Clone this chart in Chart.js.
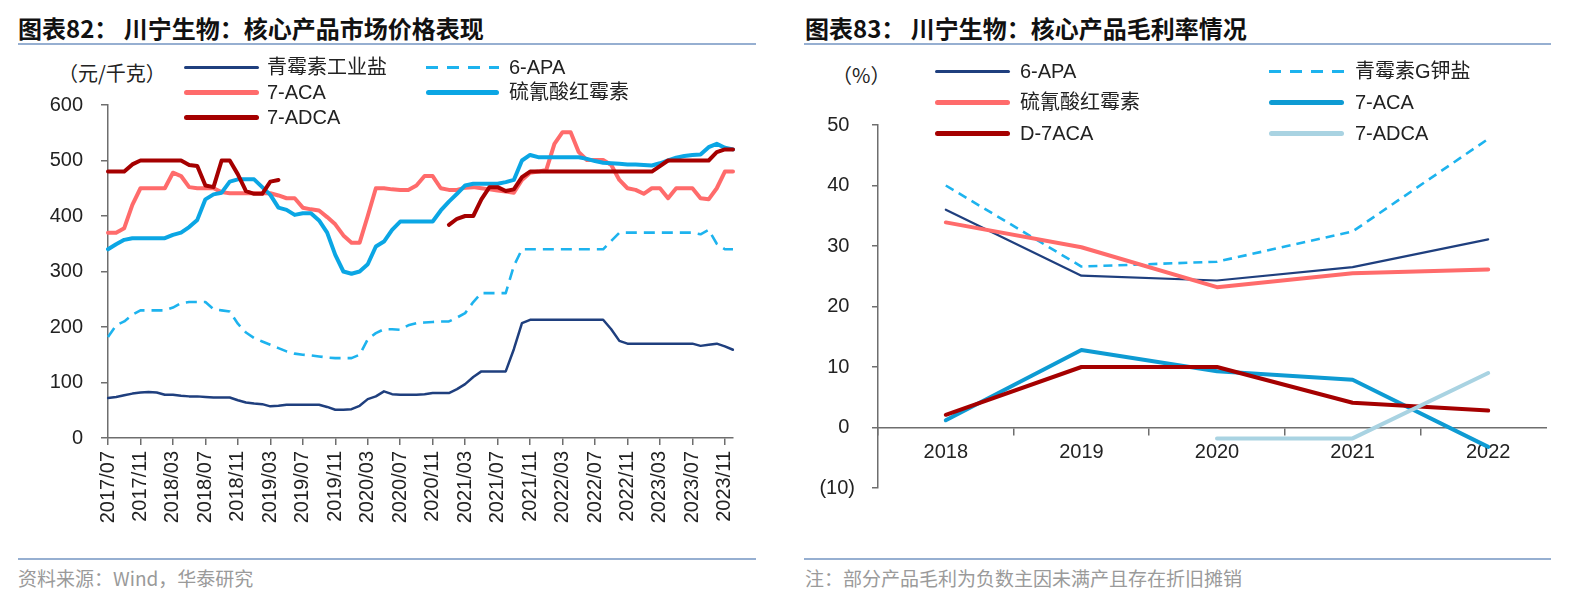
<!DOCTYPE html>
<html><head><meta charset="utf-8">
<script src="https://cdn.jsdelivr.net/npm/chart.js@4.4.1/dist/chart.umd.min.js"></script>
<style>
html,body{margin:0;padding:0;background:#fff;}
body{width:1570px;height:597px;position:relative;overflow:hidden;font-family:"Liberation Sans","Noto Sans CJK SC",sans-serif;}
.abs{position:absolute;white-space:nowrap;}
.title{font-family:"Noto Sans CJK SC",sans-serif;font-weight:700;font-size:24px;color:#111;line-height:30px;}
.rule{position:absolute;height:2px;background:#96AFD1;}
.src{font-family:"Noto Sans CJK SC",sans-serif;font-size:19px;color:#9a9a9a;line-height:24px;}
.lg{font-size:20px;color:#222;line-height:24px;}
.unit{font-family:"Noto Sans CJK SC",sans-serif;font-size:20px;color:#222;line-height:24px;}
canvas{position:absolute;}
</style></head>
<body>
<div class="abs title" style="left:18px;top:13px;">图表82： 川宁生物：核心产品市场价格表现</div>
<div class="rule" style="left:18px;top:43px;width:738px;"></div>
<div class="abs title" style="left:805px;top:13px;">图表83： 川宁生物：核心产品毛利率情况</div>
<div class="rule" style="left:804px;top:43px;width:747px;"></div>
<div class="abs unit" style="left:58px;top:61px;">（元/千克）</div>
<div class="abs unit" style="left:832px;top:63px;">（%）</div>
<canvas id="c1" width="790" height="545" style="left:0;top:0;"></canvas>
<canvas id="c2" width="780" height="520" style="left:790px;top:0;"></canvas>
<div class="abs" style="left:1547px;top:423px;width:16px;height:14px;background:#fff;"></div>
<div id="legend"></div>
<div class="rule" style="left:18px;top:558px;width:738px;"></div>
<div class="rule" style="left:804px;top:558px;width:747px;"></div>
<div class="abs src" style="left:18px;top:566px;">资料来源：Wind，华泰研究</div>
<div class="abs src" style="left:805px;top:566px;">注：部分产品毛利为负数主因未满产且存在折旧摊销</div>
<script>
// ---------- Left chart: market prices (元/千克) ----------
const months = [
 '2017/07','2017/08','2017/09','2017/10','2017/11','2017/12',
 '2018/01','2018/02','2018/03','2018/04','2018/05','2018/06','2018/07','2018/08','2018/09','2018/10','2018/11','2018/12',
 '2019/01','2019/02','2019/03','2019/04','2019/05','2019/06','2019/07','2019/08','2019/09','2019/10','2019/11','2019/12',
 '2020/01','2020/02','2020/03','2020/04','2020/05','2020/06','2020/07','2020/08','2020/09','2020/10','2020/11','2020/12',
 '2021/01','2021/02','2021/03','2021/04','2021/05','2021/06','2021/07','2021/08','2021/09','2021/10','2021/11','2021/12',
 '2022/01','2022/02','2022/03','2022/04','2022/05','2022/06','2022/07','2022/08','2022/09','2022/10','2022/11','2022/12',
 '2023/01','2023/02','2023/03','2023/04','2023/05','2023/06','2023/07','2023/08','2023/09','2023/10','2023/11','2023/12'
];
const penIndustrial = [72,74,77,80,82,83,82,78,78,76,
 75,75,74,73,73,73,68,64,62,61,
 57,58,60,60,60,60,60,56,51,51,
 52,58,70,75,84,79,78,78,78,79,
 81,81,81,88,97,110,120,120,120,120,
 160,207,213,213,213,213,213,213,213,213,
 213,213,196,175,170,170,170,170,170,170,
 170,170,170,166,168,170,165,159];
const apa6 = [182,203,210,222,230,230,230,230,235,243,
 245,245,245,232,230,228,206,190,180,174,
 168,162,156,152,150,149,147,145,144,144,
 144,150,178,189,196,196,195,203,207,208,
 209,210,210,217,225,245,261,261,261,261,
 310,340,340,340,340,340,340,340,340,340,
 340,340,355,370,370,370,370,370,370,370,
 370,370,370,367,375,350,340,340];
const aca7 = [370,370,378,420,450,450,450,450,478,472,
 452,450,450,450,443,441,441,441,441,441,
 441,437,432,432,415,412,410,398,385,365,
 352,352,400,450,450,448,447,447,455,472,
 472,450,447,447,451,452,450,448,446,444,
 442,465,478,480,483,530,551,551,515,501,
 501,501,492,465,450,447,440,450,450,432,
 450,450,450,432,430,450,480,480];
const erythro = [340,349,357,360,360,360,360,360,366,370,
 380,393,430,439,442,462,466,466,466,452,
 438,415,411,402,405,405,392,370,330,300,
 296,300,313,345,354,375,390,390,390,390,
 390,410,426,440,455,458,458,458,458,461,
 465,500,510,506,506,506,506,506,506,503,
 499,496,495,494,493,493,492,491,495,500,
 505,508,510,511,524,530,523,520];
const adca7 = [480,480,480,493,500,500,500,500,500,500,
 492,490,455,452,500,500,475,445,440,440,
 462,465,null,null,null,null,null,null,null,null,
 null,null,null,null,null,null,null,null,null,null,
 null,null,384,395,400,400,430,452,452,445,
 448,470,480,480,480,480,480,480,480,480,
 480,480,480,480,480,480,480,480,490,500,
 500,500,500,500,500,515,520,520];
const leftNames = ['青霉素工业盐','6-APA','7-ACA','硫氰酸红霉素','7-ADCA'];
const leftTicks = [0,100,200,300,400,500,600];

// ---------- Right chart: gross margin (%) ----------
const years = ['2018','2019','2020','2021','2022'];
const mApa6 = [36, 25.1, 24.3, 26.5, 31.1];
const mPenGK = [40, 26.6, 27.4, 32.4, 47.7];
const mEry = [33.9, 29.8, 23.2, 25.5, 26.1];
const mAca7 = [1.2, 12.8, 9.3, 7.9, -3.2];
const mD7aca = [2.1, 10, 10, 4.1, 2.8];
const mAdca7 = [null, null, -1.8, -1.8, 9];
const rightNames = ['6-APA','青霉素G钾盐','硫氰酸红霉素','7-ACA','D-7ACA','7-ADCA'];
const rightTicks = [-10,0,10,20,30,40,50];

// ---------- styles ----------
const FONT = "'Liberation Sans','Noto Sans CJK SC',sans-serif";
Chart.defaults.font.family = FONT;
Chart.defaults.color = '#222';
const AX = '#6e6e6e';
const NAVY = '#1F3F7E', SKY = '#1DB3EE', SALMON = '#FF6B6B', BLUE = '#0BA6E4', DRED = '#A50000', BLUE2 = '#0E9BD3', PALE = '#A9D3E2';

function ds(label, data, color, width, dash, order) {
  return {label, data, borderColor: color, backgroundColor: color, borderWidth: width,
    borderDash: dash || [], pointRadius: 0, pointHoverRadius: 0, tension: 0, fill: false,
    spanGaps: false, borderJoinStyle: 'round', borderCapStyle: dash ? 'butt' : 'round', order};
}

new Chart(document.getElementById('c1'), {
  type: 'line',
  data: {labels: months, datasets: [
    ds(leftNames[0], penIndustrial, NAVY, 2.5, null, 5),
    ds(leftNames[1], apa6, SKY, 2.6, [11, 7], 4),
    ds(leftNames[2], aca7, SALMON, 4, null, 3),
    ds(leftNames[3], erythro, BLUE, 4, null, 2),
    ds(leftNames[4], adca7, DRED, 4, null, 1)
  ]},
  options: {
    responsive: false, animation: false, devicePixelRatio: 1,
    layout: {padding: {top: 105, left: 0, right: 57, bottom: 0}},
    plugins: {legend: {display: false}, tooltip: {enabled: false}},
    scales: {
      x: {type: 'category', offset: false,
        border: {display: true, color: AX, width: 1.5},
        grid: {display: true, drawOnChartArea: false, drawTicks: true, tickLength: 7, color: AX, lineWidth: 1.5},
        ticks: {autoSkip: false, maxRotation: 90, minRotation: 90, padding: 6, color: '#222', font: {size: 20},
          callback: function(v, i) { return i % 4 === 0 ? this.getLabelForValue(v) : null; }},
        afterFit: s => { s.height = 107; }
      },
      y: {min: 0, max: 600,
        border: {display: true, color: AX, width: 1.5},
        grid: {display: true, drawOnChartArea: false, drawTicks: true, tickLength: 7, color: AX, lineWidth: 1.5},
        afterBuildTicks: s => { s.ticks = leftTicks.map(v => ({value: v})); },
        ticks: {padding: 18, color: '#222', font: {size: 20}},
        afterFit: s => { s.width = 108; }
      }
    }
  }
});

new Chart(document.getElementById('c2'), {
  type: 'line',
  data: {labels: years, datasets: [
    ds(rightNames[0], mApa6, NAVY, 2.2, null, 6),
    ds(rightNames[1], mPenGK, SKY, 2.6, [9, 6], 5),
    ds(rightNames[2], mEry, SALMON, 4, null, 4),
    ds(rightNames[3], mAca7, BLUE2, 4, null, 3),
    ds(rightNames[4], mD7aca, DRED, 4, null, 2),
    ds(rightNames[5], mAdca7, PALE, 4, null, 1)
  ]},
  options: {
    responsive: false, animation: false, devicePixelRatio: 1,
    layout: {padding: {top: 125, left: 0, right: 14, bottom: 32}},
    plugins: {legend: {display: false}, tooltip: {enabled: false}},
    scales: {
      x: {type: 'category', offset: true, position: {y: 0},
        border: {display: true, color: AX, width: 1.5},
        grid: {display: true, offset: true, drawOnChartArea: false, drawTicks: true, tickLength: 7, color: AX, lineWidth: 1.5},
        ticks: {maxRotation: 0, padding: 6, color: '#222', font: {size: 20}}
      },
      y: {min: -10, max: 50,
        border: {display: true, color: AX, width: 1.5},
        grid: {display: true, drawOnChartArea: false, drawTicks: true, tickLength: 6, color: AX, lineWidth: 1.5},
        afterBuildTicks: s => { s.ticks = rightTicks.map(v => ({value: v})); },
        ticks: {padding: 17, color: '#222', font: {size: 20},
          callback: v => v < 0 ? '(' + (-v) + ')' : v + '\u2008'},
        afterFit: s => { s.width = 88; }
      }
    }
  }
});

// ---------- HTML legends ----------
const lg = document.getElementById('legend');
function item(x1, x2, y, color, w, dashed, textX, text) {
  const line = document.createElement('div');
  line.className = 'abs';
  line.style.left = x1 + 'px'; line.style.width = (x2 - x1) + 'px';
  line.style.top = (y - w / 2) + 'px'; line.style.height = w + 'px';
  if (dashed) line.style.background = 'repeating-linear-gradient(to right,' + color + ' 0 12px, transparent 12px 21px)';
  else { line.style.background = color; line.style.borderRadius = (w / 2) + 'px'; }
  lg.appendChild(line);
  const t = document.createElement('div');
  t.className = 'abs lg';
  t.style.left = textX + 'px'; t.style.top = (y - 12) + 'px';
  t.textContent = text;
  lg.appendChild(t);
}
item(184, 259, 67, NAVY, 3, false, 267, leftNames[0]);
item(426, 499, 67, SKY, 3, true, 509, leftNames[1]);
item(184, 259, 92, SALMON, 5, false, 267, leftNames[2]);
item(426, 499, 92, BLUE, 5, false, 509, leftNames[3]);
item(184, 259, 117, DRED, 5, false, 267, leftNames[4]);

item(935, 1010, 71, NAVY, 3, false, 1020, rightNames[0]);
item(1269, 1344, 71, SKY, 3, true, 1355, rightNames[1]);
item(935, 1010, 102, SALMON, 5, false, 1020, rightNames[2]);
item(1269, 1344, 102, BLUE2, 5, false, 1355, rightNames[3]);
item(935, 1010, 133, DRED, 5, false, 1020, rightNames[4]);
item(1269, 1344, 133, PALE, 5, false, 1355, rightNames[5]);
</script>
</body></html>
